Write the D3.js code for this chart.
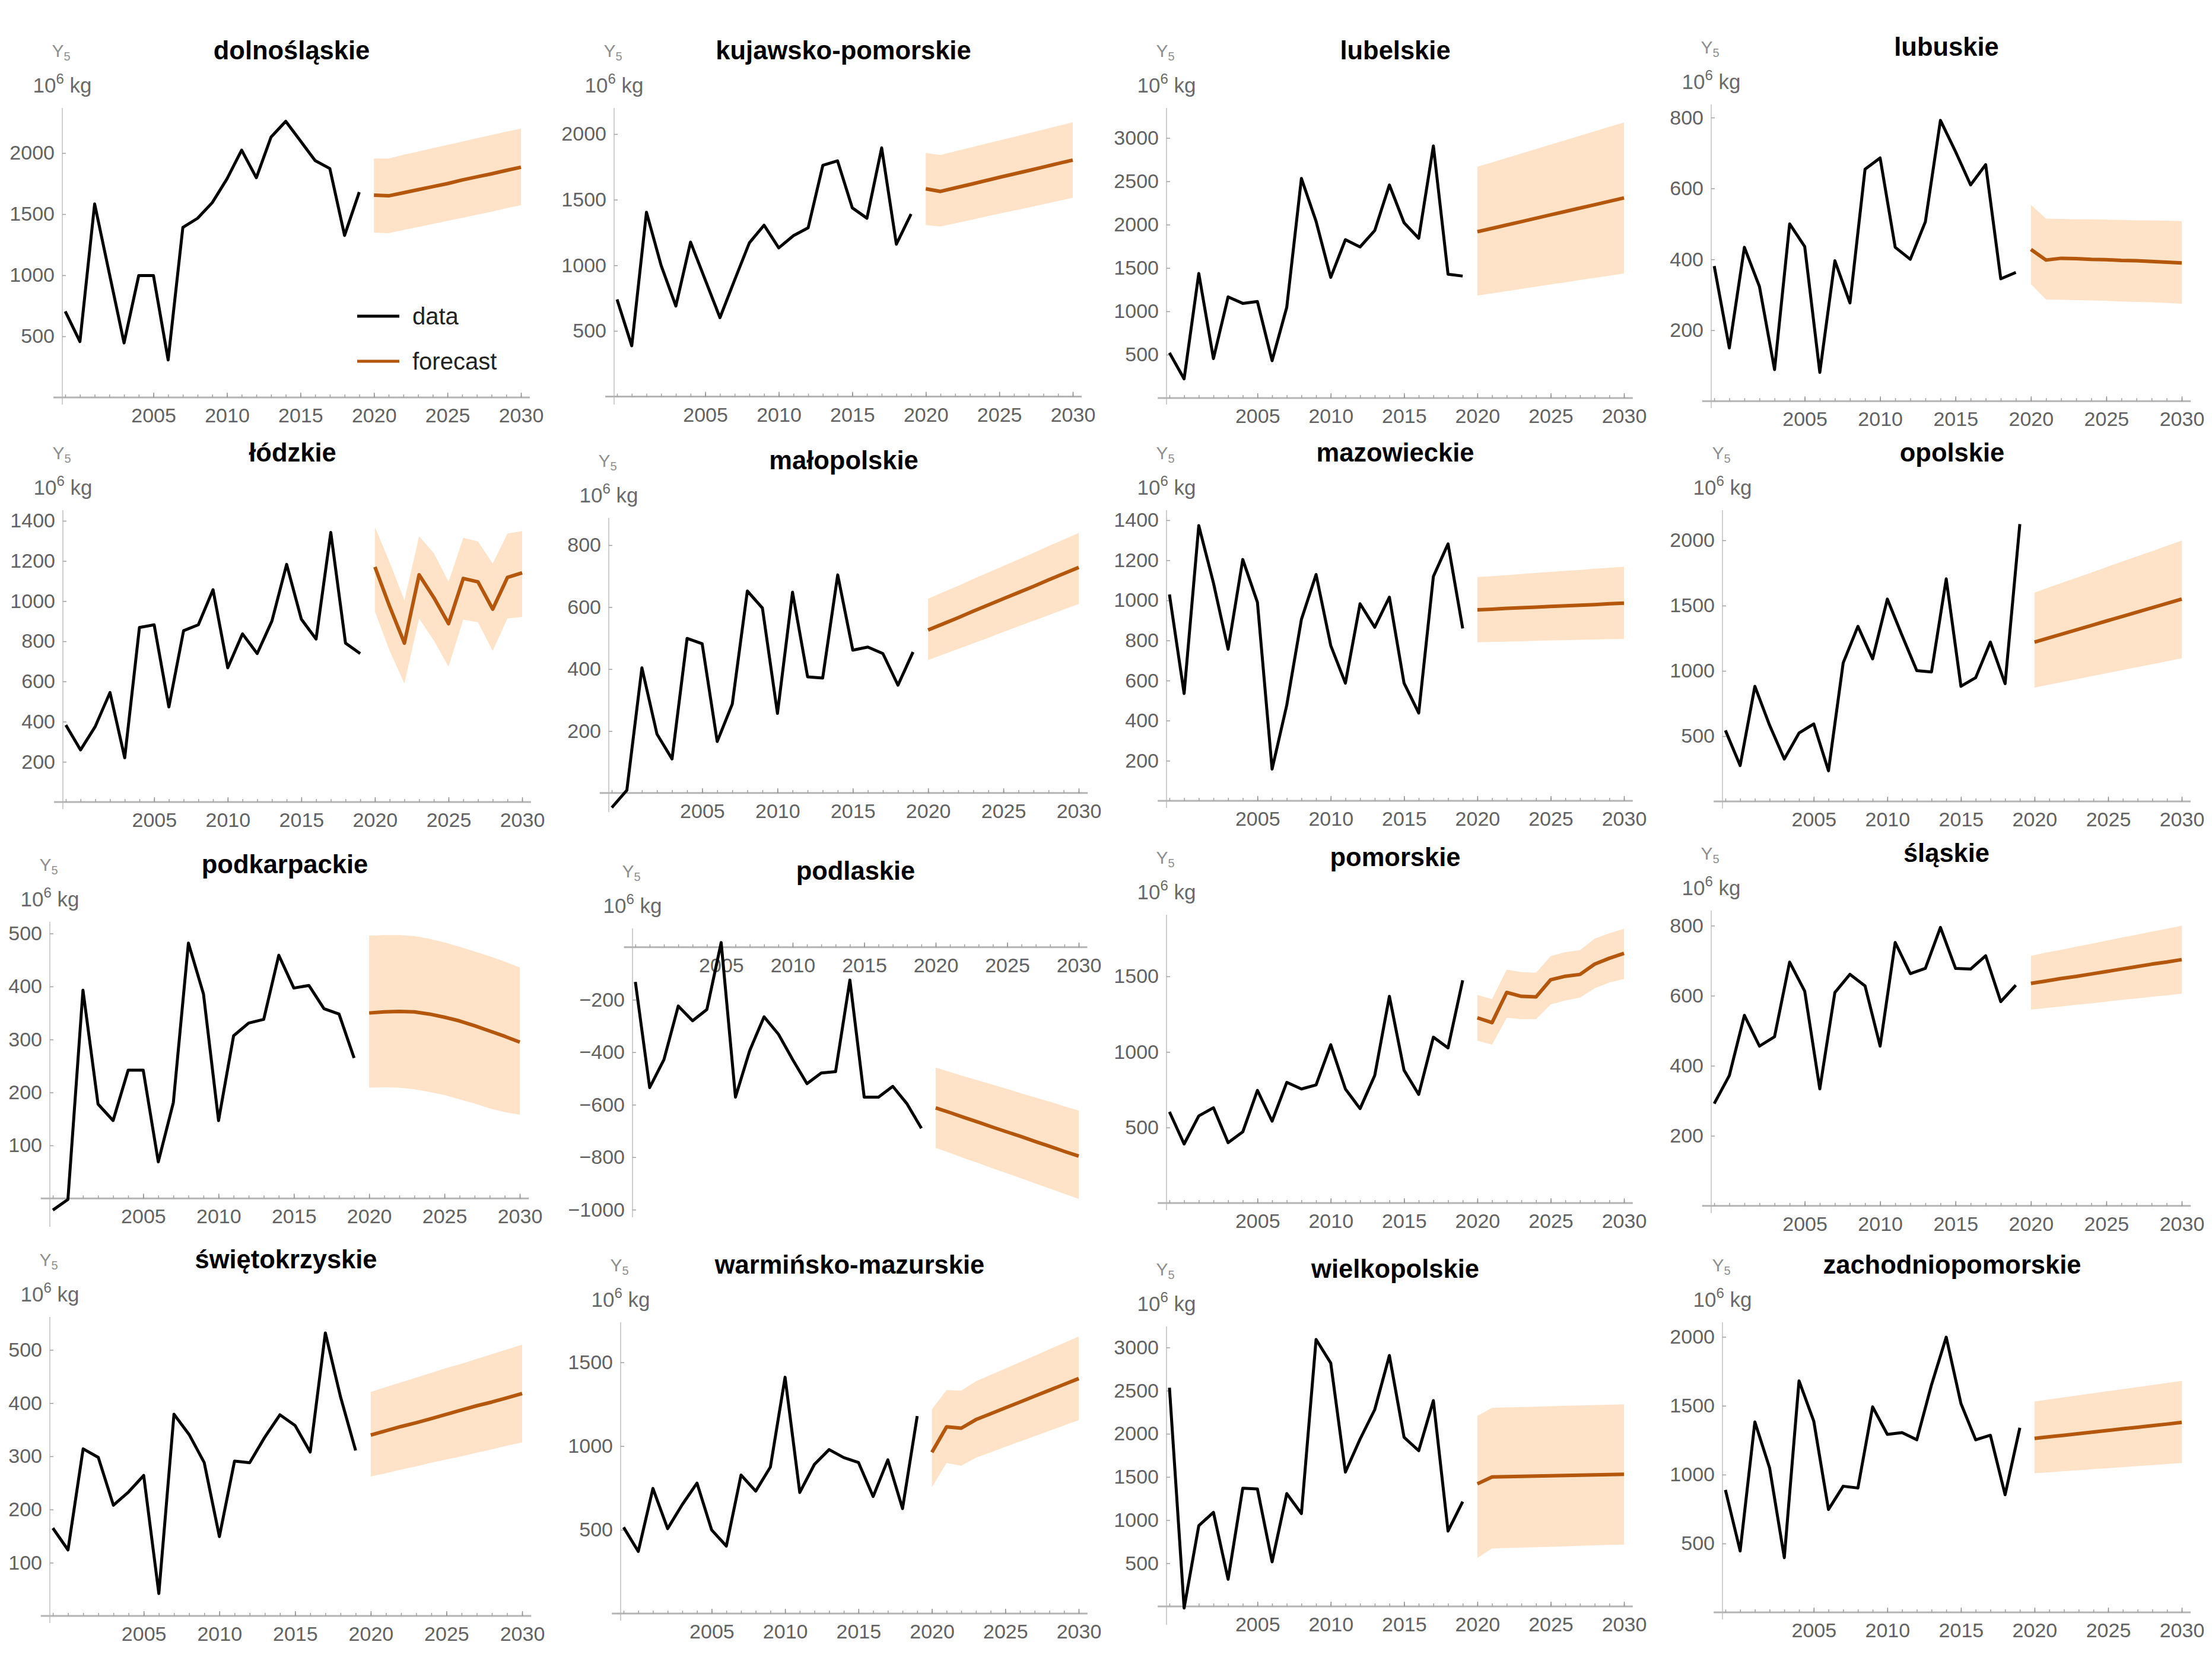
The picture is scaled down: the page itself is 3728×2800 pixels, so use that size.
<!DOCTYPE html>
<html>
<head>
<meta charset="utf-8">
<script src="https://cdn.jsdelivr.net/npm/d3@7"></script>
<style>
  body { margin: 0; background: #fff; }
  svg { display: block; font-family: "Liberation Sans", Arial, sans-serif; }
</style>
</head>
<body>
<svg id="chart" width="3728" height="2800"></svg>
<script>
const regions = [
  "dolnośląskie", "kujawsko-pomorskie", "lubelskie", "lubuskie",
  "łódzkie", "małopolskie", "mazowieckie", "opolskie",
  "podkarpackie", "podlaskie", "pomorskie", "śląskie",
  "świętokrzyskie", "warmińsko-mazurskie", "wielkopolskie", "zachodniopomorskie",
];

const dataYears = [1999, 2000, 2001, 2002, 2003, 2004, 2005, 2006, 2007, 2008, 2009,
  2010, 2011, 2012, 2013, 2014, 2015, 2016, 2017, 2018, 2019];
const forecastYears = [2020, 2021, 2022, 2023, 2024, 2025, 2026, 2027, 2028, 2029, 2030];

const observed = [
  [704, 457, 1584, 1015, 446, 998, 998, 307, 1391, 1466, 1594, 1788, 2024, 1798, 2131, 2260, 2099, 1938, 1873, 1326, 1680],
  [740, 387, 1405, 998, 690, 1177, 889, 601, 889, 1171, 1306, 1133, 1226, 1286, 1762, 1796, 1438, 1359, 1895, 1161, 1391],
  [521, 221, 1437, 455, 1167, 1092, 1113, 431, 1047, 2533, 2038, 1392, 1827, 1743, 1932, 2458, 2022, 1842, 2908, 1428, 1407],
  [381, 150, 434, 323, 89, 500, 436, 81, 396, 277, 654, 686, 434, 400, 506, 792, 704, 610, 667, 345, 363],
  [383, 259, 376, 545, 220, 869, 882, 473, 853, 882, 1057, 668, 837, 739, 901, 1183, 910, 811, 1342, 791, 739],
  [-47, 9, 404, 190, 110, 499, 482, 166, 287, 652, 597, 257, 648, 375, 371, 704, 461, 471, 450, 348, 455],
  [1029, 535, 1373, 1087, 756, 1204, 990, 158, 477, 905, 1129, 775, 587, 983, 866, 1016, 587, 438, 1119, 1282, 860],
  [544, 275, 882, 584, 325, 524, 594, 235, 1062, 1341, 1092, 1550, 1271, 1002, 992, 1705, 882, 948, 1221, 902, 2124],
  [-22, -2, 393, 178, 147, 242, 242, 69, 181, 482, 386, 147, 307, 331, 338, 459, 397, 402, 358, 348, 265],
  [-132, -535, -428, -224, -280, -237, 18, -571, -393, -265, -331, -428, -520, -479, -474, -125, -571, -571, -530, -597, -690],
  [604, 391, 577, 631, 400, 471, 746, 542, 799, 755, 782, 1048, 755, 625, 844, 1368, 879, 719, 1098, 1027, 1474],
  [292, 372, 544, 456, 483, 696, 613, 334, 609, 661, 628, 456, 752, 663, 678, 795, 678, 676, 714, 583, 630],
  [165, 124, 314, 298, 208, 233, 264, 42, 379, 341, 288, 149, 291, 288, 336, 378, 358, 308, 532, 412, 311],
  [515, 371, 747, 507, 651, 779, 499, 403, 827, 731, 875, 1411, 723, 891, 979, 931, 902, 699, 918, 627, 1179],
  [2534, -19, 935, 1090, 314, 1370, 1360, 516, 1307, 1075, 3093, 2820, 1556, 1938, 2280, 2907, 1960, 1804, 2385, 873, 1214],
  [889, 446, 1383, 1049, 397, 1681, 1389, 747, 916, 903, 1492, 1292, 1305, 1253, 1652, 1998, 1516, 1253, 1286, 854, 1340],
];

const forecastMean = [
  [1655, 1650, 1675, 1700, 1725, 1750, 1780, 1805, 1830, 1858, 1884],
  [1583, 1563, 1590, 1616, 1643, 1670, 1696, 1722, 1749, 1776, 1802],
  [1918, 1957, 1996, 2035, 2074, 2113, 2152, 2191, 2230, 2269, 2308],
  [428, 398, 403, 402, 400, 399, 397, 396, 394, 392, 390],
  [1170, 973, 791, 1131, 1018, 888, 1113, 1096, 960, 1118, 1141],
  [526, 546, 566, 587, 607, 627, 647, 667, 688, 708, 728],
  [953, 956, 960, 963, 966, 970, 973, 976, 979, 983, 986],
  [1221, 1254, 1287, 1320, 1353, 1386, 1418, 1451, 1484, 1517, 1550],
  [350, 352, 353, 352, 348, 342, 335, 326, 316, 306, 295],
  [-612, -630, -649, -667, -686, -704, -722, -741, -759, -778, -796],
  [1226, 1194, 1394, 1368, 1364, 1478, 1501, 1513, 1581, 1620, 1652],
  [635, 642, 649, 655, 662, 669, 676, 683, 690, 696, 703],
  [340, 348, 356, 363, 371, 379, 387, 395, 402, 410, 418],
  [963, 1115, 1107, 1158, 1193, 1228, 1263, 1298, 1333, 1368, 1403],
  [1420, 1500, 1503, 1507, 1510, 1514, 1517, 1520, 1524, 1527, 1531],
  [1263, 1275, 1286, 1298, 1309, 1321, 1333, 1344, 1356, 1367, 1379],
];

const forecastLower = [
  [1348, 1345, 1370, 1395, 1420, 1445, 1470, 1495, 1520, 1548, 1573],
  [1306, 1296, 1320, 1344, 1369, 1393, 1417, 1441, 1466, 1490, 1514],
  [1182, 1208, 1233, 1259, 1284, 1310, 1335, 1361, 1386, 1412, 1437],
  [330, 287, 286, 285, 284, 283, 281, 280, 279, 277, 275],
  [947, 752, 590, 914, 804, 674, 908, 895, 752, 914, 921],
  [429, 447, 465, 483, 501, 520, 538, 556, 574, 592, 610],
  [791, 793, 794, 796, 798, 800, 801, 803, 805, 806, 808],
  [873, 895, 917, 940, 962, 984, 1007, 1029, 1051, 1074, 1096],
  [209, 210, 209, 206, 201, 195, 187, 179, 170, 163, 158],
  [-765, -784, -804, -823, -843, -862, -881, -901, -920, -940, -959],
  [1075, 1048, 1226, 1217, 1217, 1314, 1341, 1359, 1421, 1460, 1483],
  [560, 565, 569, 574, 578, 583, 588, 592, 597, 601, 606],
  [262, 268, 275, 281, 288, 294, 300, 307, 313, 320, 326],
  [755, 899, 883, 931, 963, 995, 1027, 1059, 1091, 1123, 1155],
  [562, 671, 676, 681, 686, 691, 696, 702, 707, 712, 717],
  [1010, 1017, 1025, 1032, 1040, 1047, 1054, 1062, 1069, 1077, 1084],
];

const forecastUpper = [
  [1955, 1955, 1985, 2012, 2040, 2067, 2094, 2121, 2148, 2175, 2200],
  [1855, 1841, 1869, 1896, 1924, 1951, 1979, 2007, 2034, 2062, 2089],
  [2668, 2719, 2770, 2821, 2872, 2923, 2975, 3026, 3077, 3128, 3179],
  [554, 515, 514, 513, 513, 512, 511, 510, 510, 509, 508],
  [1368, 1193, 1005, 1323, 1239, 1096, 1316, 1297, 1187, 1336, 1349],
  [627, 648, 669, 691, 712, 733, 754, 775, 797, 818, 839],
  [1116, 1121, 1126, 1132, 1137, 1142, 1147, 1152, 1158, 1163, 1168],
  [1600, 1640, 1680, 1719, 1759, 1799, 1839, 1879, 1918, 1958, 1998],
  [496, 497, 497, 495, 490, 483, 475, 466, 457, 447, 436],
  [-459, -475, -492, -508, -524, -540, -557, -573, -589, -606, -622],
  [1377, 1350, 1545, 1528, 1524, 1634, 1661, 1673, 1750, 1785, 1815],
  [714, 723, 731, 740, 748, 757, 766, 774, 783, 791, 800],
  [421, 430, 439, 448, 457, 466, 474, 483, 492, 501, 510],
  [1219, 1334, 1331, 1387, 1425, 1463, 1501, 1539, 1578, 1616, 1654],
  [2208, 2301, 2306, 2310, 2315, 2319, 2324, 2328, 2333, 2337, 2342],
  [1531, 1546, 1561, 1576, 1591, 1606, 1621, 1636, 1651, 1666, 1681],
];

// value shown at the bottom and at the top of each panel's plot range
const yRanges = [
  [-39, 2369], [-43, 2199], [-48, 3346], [-13, 837],
  [-24, 1453], [-54, 888], [-24, 1450], [-36, 2231],
  [-49, 522], [-1020, 72], [-31, 1908], [-14, 843],
  [-9, 562], [-28, 1739], [-186, 3244], [-34, 2106],
];

const yTicks = [
  [500, 1000, 1500, 2000],
  [500, 1000, 1500, 2000],
  [500, 1000, 1500, 2000, 2500, 3000],
  [200, 400, 600, 800],
  [200, 400, 600, 800, 1000, 1200, 1400],
  [200, 400, 600, 800],
  [200, 400, 600, 800, 1000, 1200, 1400],
  [500, 1000, 1500, 2000],
  [100, 200, 300, 400, 500],
  [-1000, -800, -600, -400, -200],
  [500, 1000, 1500],
  [200, 400, 600, 800],
  [100, 200, 300, 400, 500],
  [500, 1000, 1500],
  [500, 1000, 1500, 2000, 2500, 3000],
  [500, 1000, 1500, 2000],
];

const xTickLabels = [2005, 2010, 2015, 2020, 2025, 2030];
const xMinorTicks = [1999, 2000, 2001, 2002, 2003, 2004, 2005, 2006, 2007, 2008, 2009, 2010,
  2011, 2012, 2013, 2014, 2015, 2016, 2017, 2018, 2019, 2020, 2021, 2022, 2023, 2024,
  2025, 2026, 2027, 2028, 2029, 2030];
const legendLabels = ["data", "forecast"];

// panel frames in page pixels: [y-axis x, x of 2030, plot top, plot bottom]
const frames = [
  [105, 878, 182, 678], [1035, 1808, 182, 678], [1966, 2737, 182, 678], [2884, 3677, 176, 684],
  [106, 880, 860, 1360], [1026, 1818, 873, 1365], [1966, 2737, 860, 1358], [2903, 3677, 860, 1359],
  [84, 876, 1554, 2064], [1066, 1818, 1565, 2048], [1966, 2737, 1542, 2036], [2884, 3677, 1535, 2041],
  [84, 880, 2220, 2732], [1046, 1818, 2229, 2728], [1966, 2737, 2236, 2735], [2903, 3677, 2229, 2726],
];

const X_AXIS_YEAR = 1998.8;
const DATA_COLOR = "#000";
const FORECAST_COLOR = "#b4560c";
const BAND_COLOR = "#fee3c8";
const TICK_TEXT = "#626262";
const FONT = '"Liberation Sans", Arial, sans-serif';

const svg = d3.select("#chart");

function drawPanel(i) {
  const [left, right, top, bottom] = frames[i];
  const g = svg.append("g").attr("class", "panel");

  const x = d3.scaleLinear().domain([X_AXIS_YEAR, 2030]).range([left, right]);
  const y = d3.scaleLinear().domain(yRanges[i]).range([bottom, top]);
  const y0 = y(0);

  const band = forecastYears.map((yr, j) => ({ yr, lo: forecastLower[i][j], hi: forecastUpper[i][j] }));
  g.append("path")
    .attr("d", d3.area().x((d) => x(d.yr)).y0((d) => y(d.lo)).y1((d) => y(d.hi))(band))
    .attr("fill", BAND_COLOR);

  // axes
  g.append("line")
    .attr("x1", left).attr("x2", left)
    .attr("y1", top).attr("y2", bottom + 4)
    .attr("stroke", "#c4c4c4").attr("stroke-width", 1.6);

  g.append("line")
    .attr("x1", x(1998.2)).attr("x2", x(2030.6))
    .attr("y1", y0).attr("y2", y0)
    .attr("stroke", "#b4b4b4").attr("stroke-width", 3);

  const minor = g.append("g").attr("transform", `translate(0,${y0})`)
    .call(d3.axisBottom(x).tickValues(xMinorTicks).tickSize(-5).tickFormat(""));
  minor.select(".domain").remove();
  minor.selectAll(".tick line").attr("stroke", "#a0a0a0").attr("stroke-width", 1.5);

  const xAxis = g.append("g").attr("transform", `translate(0,${y0})`)
    .call(d3.axisBottom(x).tickValues(xTickLabels).tickSize(-8).tickPadding(18).tickFormat(d3.format("d")));
  xAxis.select(".domain").remove();
  xAxis.selectAll(".tick line").attr("stroke", "#909090").attr("stroke-width", 1.5);
  xAxis.selectAll("text")
    .attr("font-size", 34).attr("font-family", FONT).attr("fill", TICK_TEXT);

  const yAxis = g.append("g").attr("transform", `translate(${left},0)`)
    .call(d3.axisLeft(y).tickValues(yTicks[i]).tickSize(-6).tickPadding(13).tickFormat((d) => d < 0 ? "\u2212" + Math.abs(d) : d));
  yAxis.select(".domain").remove();
  yAxis.selectAll(".tick line").attr("stroke", "#a0a0a0").attr("stroke-width", 1.5);
  yAxis.selectAll("text")
    .attr("font-size", 34).attr("font-family", FONT).attr("fill", TICK_TEXT);

  // lines
  const line = d3.line().x((d) => x(d[0])).y((d) => y(d[1]));
  g.append("path")
    .attr("d", line(forecastYears.map((yr, j) => [yr, forecastMean[i][j]])))
    .attr("fill", "none").attr("stroke", FORECAST_COLOR)
    .attr("stroke-width", 6).attr("stroke-linejoin", "round");
  g.append("path")
    .attr("d", line(dataYears.map((yr, j) => [yr, observed[i][j]])))
    .attr("fill", "none").attr("stroke", DATA_COLOR)
    .attr("stroke-width", 5).attr("stroke-linejoin", "round");

  // labels
  g.append("text")
    .attr("x", (left + right) / 2).attr("y", top - 82)
    .attr("text-anchor", "middle")
    .attr("font-size", 43.5).attr("font-weight", "bold").attr("fill", "#000")
    .text(regions[i]);

  const yl = g.append("text")
    .attr("x", left - 2).attr("y", top - 86)
    .attr("text-anchor", "middle").attr("fill", "#8f8f8f").attr("font-size", 30);
  yl.append("tspan").text("Y");
  yl.append("tspan").attr("font-size", 20).attr("dy", 6).text("5");

  const ul = g.append("text")
    .attr("x", left).attr("y", top - 26)
    .attr("text-anchor", "middle").attr("fill", "#6a6a6a").attr("font-size", 35);
  ul.append("tspan").text("10");
  ul.append("tspan").attr("font-size", 24).attr("dy", -15).text("6");
  ul.append("tspan").attr("dy", 15).text(" kg");
}

regions.forEach((_, i) => drawPanel(i));

// legend inside the first panel
const [lx, , ly] = frames[0];
const legend = svg.append("g").attr("transform", `translate(${lx + 497},${ly + 351})`);
legendLabels.forEach((label, k) => {
  legend.append("line")
    .attr("x1", 0).attr("x2", 71).attr("y1", k * 76).attr("y2", k * 76)
    .attr("stroke", k === 0 ? DATA_COLOR : FORECAST_COLOR)
    .attr("stroke-width", 5);
  legend.append("text")
    .attr("x", 93).attr("y", k * 76 + 14)
    .attr("font-size", 40).attr("fill", "#222")
    .text(label);
});
</script>
</body>
</html>
